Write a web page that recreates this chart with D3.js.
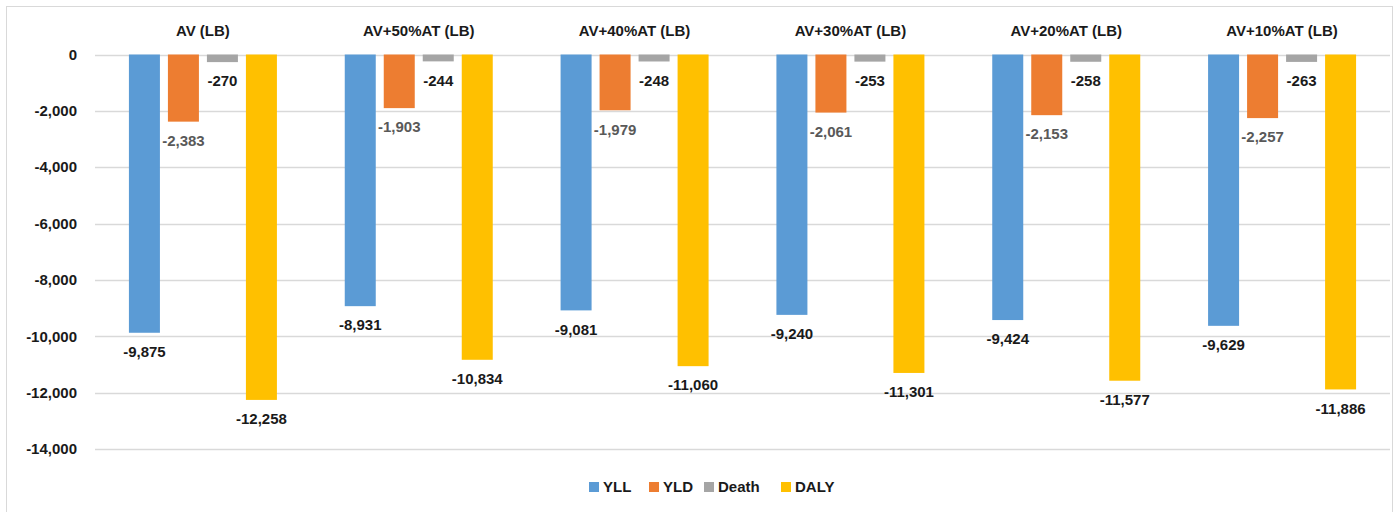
<html>
<head>
<meta charset="utf-8">
<script src="https://cdn.jsdelivr.net/npm/d3@7"></script>
<style>
  body { margin: 0; padding: 0; background: #fff; font-family: "Liberation Sans", Arial, sans-serif; }
  svg text { font-family: "Liberation Sans", Arial, sans-serif; }
</style>
</head>
<body>
<div id="chart-container"></div>
<script>
  var categories = ["AV (LB)", "AV+50%AT (LB)", "AV+40%AT (LB)", "AV+30%AT (LB)", "AV+20%AT (LB)", "AV+10%AT (LB)"];
  var seriesNames = ["YLL", "YLD", "Death", "DALY"];
  var yll = [-9875, -8931, -9081, -9240, -9424, -9629];
  var yld = [-2383, -1903, -1979, -2061, -2153, -2257];
  var death = [-270, -244, -248, -253, -258, -263];
  var daly = [-12258, -10834, -11060, -11301, -11577, -11886];
  var yTicks = [0, -2000, -4000, -6000, -8000, -10000, -12000, -14000];

  var COLORS = { "YLL": "#5B9BD5", "YLD": "#ED7D31", "Death": "#A5A5A5", "DALY": "#FFC000" };
  var LABEL_FILL = { "YLL": "#1a1a1a", "YLD": "#595959", "Death": "#1a1a1a", "DALY": "#1a1a1a" };

  var W = 1395, H = 512;
  var plot = { left: 95, right: 1390, top: 54.5, bottom: 449 };

  var values = { "YLL": yll, "YLD": yld, "Death": death, "DALY": daly };
  var rows = categories.map(function(c, i) {
    return { cat: c, bars: seriesNames.map(function(s) { return { series: s, value: values[s][i] }; }) };
  });

  // plain hyphen for the minus sign, like the original
  var comma = d3.format(",");
  function fmt(v) { return (v < 0 ? "-" : "") + comma(Math.abs(v)); }

  var svg = d3.select("#chart-container").append("svg")
    .attr("width", W).attr("height", H);

  // outer border
  svg.append("rect")
    .attr("x", 6.5).attr("y", 6.5)
    .attr("width", 1386).attr("height", 512)
    .attr("fill", "none").attr("stroke", "#d9d9d9");

  var x0 = d3.scaleBand().domain(categories).range([plot.left, plot.right]).padding(0);
  var groupPad = (x0.bandwidth() - 148) / 2;
  var x1 = d3.scaleBand().domain(seriesNames)
    .range([groupPad, x0.bandwidth() - groupPad])
    .paddingInner(8 / 39).paddingOuter(0);
  var y = d3.scaleLinear().domain([-14000, 0]).range([plot.bottom, plot.top]);

  // gridlines
  svg.append("g").selectAll("line").data(yTicks).enter().append("line")
    .attr("x1", plot.left).attr("x2", plot.right)
    .attr("y1", function(d) { return Math.round(y(d)) + 0.5; })
    .attr("y2", function(d) { return Math.round(y(d)) + 0.5; })
    .attr("stroke", "#d9d9d9").attr("stroke-width", 1.3);

  // y axis labels
  svg.append("g").selectAll("text").data(yTicks).enter().append("text")
    .attr("x", 77).attr("y", function(d) { return y(d); })
    .attr("dy", "0.35em")
    .attr("text-anchor", "end")
    .attr("font-size", 15).attr("font-weight", "bold").attr("fill", "#1a1a1a")
    .text(function(d) { return fmt(d); });

  // category labels on top
  svg.append("g").selectAll("text").data(categories).enter().append("text")
    .attr("x", function(d) { return x0(d) + x0.bandwidth() / 2; })
    .attr("y", 31).attr("dy", "0.35em")
    .attr("text-anchor", "middle")
    .attr("font-size", 15).attr("font-weight", "bold").attr("fill", "#1a1a1a")
    .text(function(d) { return d; });

  var groups = svg.append("g").selectAll("g").data(rows).enter().append("g")
    .attr("transform", function(d) { return "translate(" + x0(d.cat) + ",0)"; });

  groups.selectAll("rect").data(function(d) { return d.bars; }).enter().append("rect")
    .attr("x", function(d) { return x1(d.series); })
    .attr("width", x1.bandwidth())
    .attr("y", y(0))
    .attr("height", function(d) { return y(d.value) - y(0); })
    .attr("fill", function(d) { return COLORS[d.series]; });

  groups.selectAll("text").data(function(d) { return d.bars; }).enter().append("text")
    .attr("x", function(d) { return x1(d.series) + x1.bandwidth() / 2; })
    .attr("y", function(d) { return y(d.value) + 19; })
    .attr("dy", "0.35em")
    .attr("text-anchor", "middle")
    .attr("font-size", 15)
    .attr("font-weight", "bold")
    .attr("fill", function(d) { return LABEL_FILL[d.series]; })
    .text(function(d) { return fmt(d.value); });

  // legend
  var legendX = [589, 649, 704, 781];
  var legend = svg.append("g").selectAll("g").data(seriesNames).enter().append("g")
    .attr("transform", function(d, i) { return "translate(" + legendX[i] + ",487)"; });
  legend.append("rect")
    .attr("x", 0).attr("y", -5).attr("width", 10).attr("height", 10)
    .attr("fill", function(d) { return COLORS[d]; });
  legend.append("text")
    .attr("x", 14).attr("y", 0).attr("dy", "0.35em")
    .attr("font-size", 15).attr("font-weight", "bold").attr("fill", "#1a1a1a")
    .text(function(d) { return d; });
</script>
</body>
</html>
